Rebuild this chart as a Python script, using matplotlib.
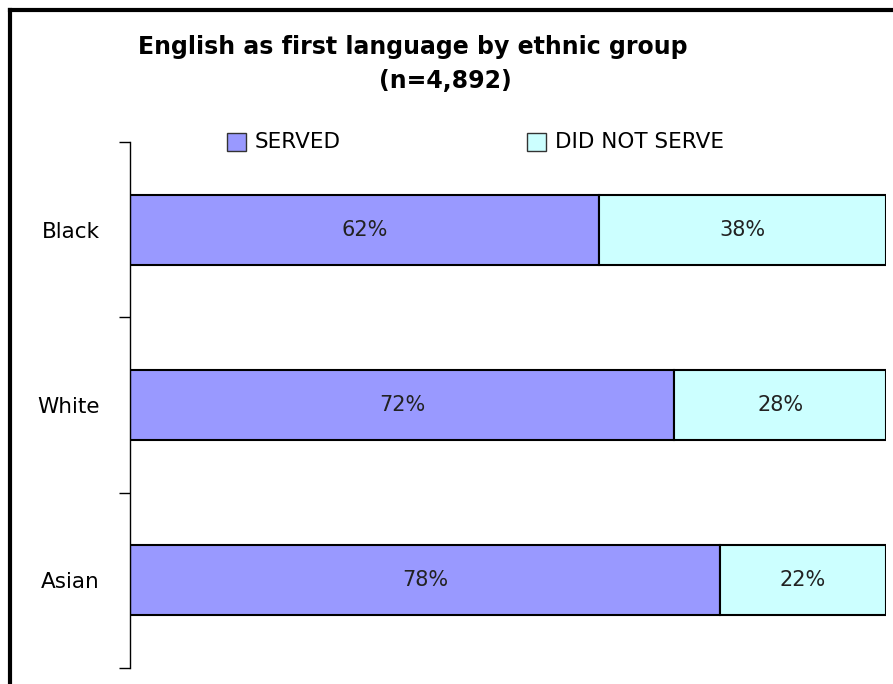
import numpy as np
import matplotlib
matplotlib.use('Agg')
import matplotlib.pyplot as plt
import matplotlib.patches as mpatches
from matplotlib.lines import Line2D

# Valores por grupo étnico (percentual)
grupos = ['Black', 'White', 'Asian']
served = [62, 72, 78]
did_not_serve = [38, 28, 22]

COR_SERVED = '#9999FF'
COR_NAO = '#CCFFFF'

fig = plt.figure(figsize=(8.93, 6.84), dpi=100)
ax = fig.add_axes([130 / 893, 1 - 668 / 684, 756 / 893, 526 / 684])

y_pos = np.arange(len(grupos))
ax.barh(y_pos, served, height=0.4, color=COR_SERVED,
        edgecolor='black', linewidth=1.5)
ax.barh(y_pos, did_not_serve, left=served, height=0.4, color=COR_NAO,
        edgecolor='black', linewidth=1.5)

for i in range(len(grupos)):
    ax.text(served[i] / 2, i, f'{served[i]}%', ha='center', va='center',
            fontsize=15, color='#222222')
    ax.text(served[i] + did_not_serve[i] / 2, i, f'{did_not_serve[i]}%',
            ha='center', va='center', fontsize=15, color='#222222')

ax.set_xlim(0, 100)
ax.set_ylim(len(grupos) - 0.5, -0.5)
ax.set_yticks(y_pos)
ax.set_yticklabels(grupos, fontsize=15.5)
ax.tick_params(axis='y', which='major', length=0, pad=22)
ax.set_yticks(np.arange(-0.5, len(grupos)), minor=True)
ax.tick_params(axis='y', which='minor', length=8, width=1)
ax.set_xticks([])
for lado in ['top', 'right', 'bottom']:
    ax.spines[lado].set_visible(False)
ax.spines['left'].set_linewidth(1)

# Título
fig.text(413 / 893, 1 - 47 / 684, 'English as first language by ethnic group',
         ha='center', va='center', fontsize=17, fontweight='bold')
fig.text(445 / 893, 1 - 81 / 684, '(n=4,892)',
         ha='center', va='center', fontsize=17, fontweight='bold')

# Legenda manual
for x0, cor, rotulo in [(227, COR_SERVED, 'SERVED'), (527, COR_NAO, 'DID NOT SERVE')]:
    fig.patches.append(mpatches.Rectangle((x0 / 893, 1 - 151 / 684), 19 / 893, 18 / 684,
                                          transform=fig.transFigure, facecolor=cor,
                                          edgecolor='#333333', linewidth=1))
    fig.text((x0 + 28) / 893, 1 - 142 / 684, rotulo, ha='left', va='center', fontsize=15.5)

# Moldura
fig.lines.append(Line2D([10 / 893, 10 / 893], [0, 1 - 10 / 684], transform=fig.transFigure,
                        color='black', linewidth=3))
fig.lines.append(Line2D([10 / 893, 1], [1 - 10 / 684, 1 - 10 / 684], transform=fig.transFigure,
                        color='black', linewidth=3))

fig.savefig('out.png', dpi=100)
